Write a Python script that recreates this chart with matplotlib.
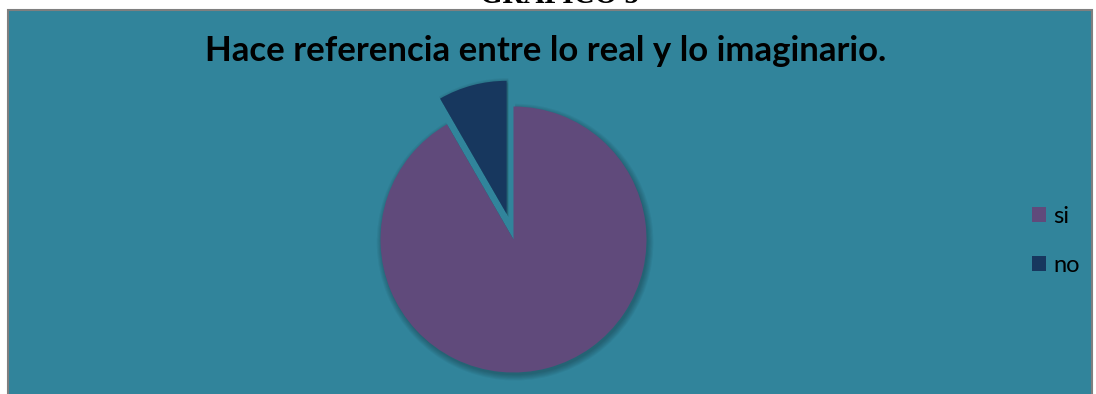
import matplotlib.pyplot as plt
from matplotlib.patches import Rectangle

# survey answers
labels = ['si', 'no']
counts = [22, 2]
colors = ['#604A7B', '#17375E']
explode = [0, 0.2]

title = 'Hace referencia entre lo real y lo imaginario.'
heading = 'GRAFICO 5'

W, H = 1096, 394
fig = plt.figure(figsize=(W / 100, H / 100), dpi=100, facecolor='white')

# chart area with gray frame
fig.patches.append(Rectangle((8 / W, -0.05), (1084 / W), (H - 9.5) / H + 0.05,
                             transform=fig.transFigure, facecolor='#31849B',
                             edgecolor='#7F7F7F', linewidth=1.5, zorder=-5))

# heading above the chart, mostly cut off by the top edge
fig.text(560 / W, 1 - 3 / H, heading, ha='center', va='baseline',
         fontsize=21, fontweight='bold', family='Liberation Serif', color='black')

fig.text(546 / W, 1 - 61 / H, title, ha='center', va='baseline',
         fontsize=25, fontweight='bold', family='Lato', color='black')

# pie axes: 133 px radius centred at (513, 239)
r = 133
cx, cy = 513.5, H - 239.5
half = 200
ax = fig.add_axes([(cx - half) / W, (cy - half) / H, 2 * half / W, 2 * half / H])
ax.set_zorder(1)

# soft shadow under the wedges
for k in range(6):
    sh, _ = ax.pie(counts, explode=explode, startangle=90, counterclock=False,
                   radius=1 + 0.008 * k, center=(0.012, -0.02),
                   colors=['black', 'black'], frame=True)
    for w in sh:
        w.set_alpha(0.045)
        w.set_linewidth(0)

wedges, _ = ax.pie(counts, explode=explode, startangle=90, counterclock=False,
                   colors=colors, frame=True, wedgeprops=dict(linewidth=0))
ax.set_xlim(-half / r, half / r)
ax.set_ylim(-half / r, half / r)
ax.set_aspect('equal')
ax.axis('off')

leg = fig.legend(wedges, labels, loc='center left',
                 bbox_to_anchor=(1032 / W, (H - 241) / H),
                 frameon=False, prop=dict(family='Lato', size=17),
                 handlelength=0.6, handleheight=0.6, handletextpad=0.3,
                 labelspacing=1.2, borderpad=0, borderaxespad=0)
leg.set_zorder(2)

fig.savefig('out.png', dpi=100, facecolor='white')
